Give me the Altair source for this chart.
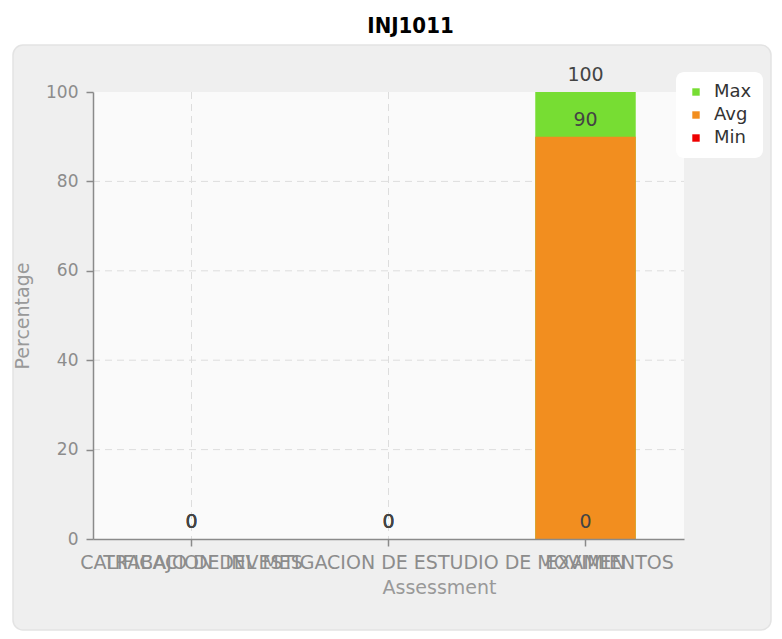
import altair as alt
import pandas as pd

categories = [
    "CALIFICACION DEL MES",
    "TRABAJO DE INVESTIGACION DE ESTUDIO DE MOVIMIENTOS",
    "EXAMEN",
]
series = ["Max", "Avg", "Min"]
max_vals = [0, 0, 100]
avg_vals = [0, 0, 90]
min_vals = [0, 0, 0]
y_ticks = [0, 20, 40, 60, 80, 100]
grid_ticks = [20, 40, 60, 80]
colors = ["#77dd33", "#f28e1f", "#ee0000"]

rows = []
for s, vals in zip(series, [max_vals, avg_vals, min_vals]):
    for c, v in zip(categories, vals):
        rows.append({"Assessment": c, "Series": s, "Percentage": v})
df = pd.DataFrame(rows)

W, H = 591, 447
FONT = "DejaVu Sans"

xscale = alt.Scale(domain=categories, paddingInner=0, paddingOuter=0)
yscale = alt.Scale(domain=[0, 100], nice=False)

xaxis = alt.Axis(
    title="Assessment", labelAngle=0, labelLimit=0, labelOverlap=False,
    tickSize=7, labelPadding=7, domainColor="#8a8a8a", tickColor="#8a8a8a",
    domainWidth=1.5, tickWidth=1.5,
    labelColor="#8c8c8c", labelFontSize=19, labelFont=FONT,
    titleX=346, titleY=48, titleBaseline="middle", titleColor="#999999",
    titleFontSize=19, titleFont=FONT, titleFontWeight="normal",
    grid=False, zindex=1,
)
yaxis = alt.Axis(
    title="Percentage", values=y_ticks, grid=False, tickSize=7, labelPadding=8,
    domainColor="#8a8a8a", tickColor="#8a8a8a", domainWidth=1.5, tickWidth=1.5,
    labelColor="#8c8c8c", labelFontSize=17, labelFont=FONT,
    titleX=-71, titleBaseline="middle", titleColor="#999999",
    titleFontSize=19, titleFont=FONT, titleFontWeight="normal", zindex=1,
)

X = alt.X("Assessment:N", scale=xscale, sort=categories, axis=xaxis, title="Assessment")
Y = alt.Y("Percentage:Q", scale=yscale, stack=None, axis=yaxis, title="Percentage")

one = pd.DataFrame({"p": [0]})

panel = alt.Chart(one).mark_rect(
    fill="#efefef", stroke="#e3e3e3", strokeWidth=1.5, cornerRadius=10
).encode(
    x=alt.value(-80), x2=alt.value(678), y=alt.value(-47), y2=alt.value(538)
)

plotbg = alt.Chart(one).mark_rect(fill="#fafafa").encode(
    x=alt.value(0), x2=alt.value(W), y=alt.value(0), y2=alt.value(H)
)

grid_df = pd.DataFrame({"Percentage": grid_ticks})
hgrid = alt.Chart(grid_df).mark_rule(
    color="#dddddd", strokeDash=[7, 5], strokeWidth=1
).encode(
    y=Y,
    x=alt.value(0),
    x2=alt.value(W),
)

vgrid = alt.Chart(pd.DataFrame({"Assessment": categories})).mark_rule(
    color="#dddddd", strokeDash=[7, 5], strokeWidth=1
).encode(
    x=X,
    y=alt.value(0),
    y2=alt.value(H),
)

bars = alt.Chart(df).mark_bar(width=alt.RelativeBandSize(0.51)).encode(
    x=X,
    y=Y,
    color=alt.Color(
        "Series:N",
        scale=alt.Scale(domain=series, range=colors),
        title=None,
        legend=alt.Legend(
            orient="none", legendX=583, legendY=-20, fillColor="white",
            cornerRadius=8, padding=11, symbolType="square", symbolSize=55,
            symbolStrokeWidth=0, labelFontSize=18, labelFont=FONT,
            labelColor="#333333", rowPadding=5, labelOffset=9,
        ),
    ),
)

labels = alt.Chart(df).mark_text(
    dy=-17, fontSize=19, font=FONT, color="#444444"
).encode(
    x=X,
    y=Y,
    text=alt.Text("Percentage:Q"),
)

chart = alt.layer(panel, plotbg, hgrid, vgrid, bars, labels).properties(
    width=W,
    height=H,
    title=alt.TitleParams(
        "INJ1011",
        font="'Liberation Sans Narrow', 'DejaVu Sans Condensed', 'Liberation Sans', sans-serif",
        fontWeight="bold", fontSize=22, color="#000000", anchor="middle",
        frame="group", dx=22, offset=6,
    ),
    padding={"left": 85, "top": 84, "right": 88, "bottom": 92},
    autosize=alt.AutoSizeParams(type="none"),
    background="white",
).configure_view(strokeWidth=0)

chart.save("out.html", embed_options={"renderer": "svg", "actions": False})
